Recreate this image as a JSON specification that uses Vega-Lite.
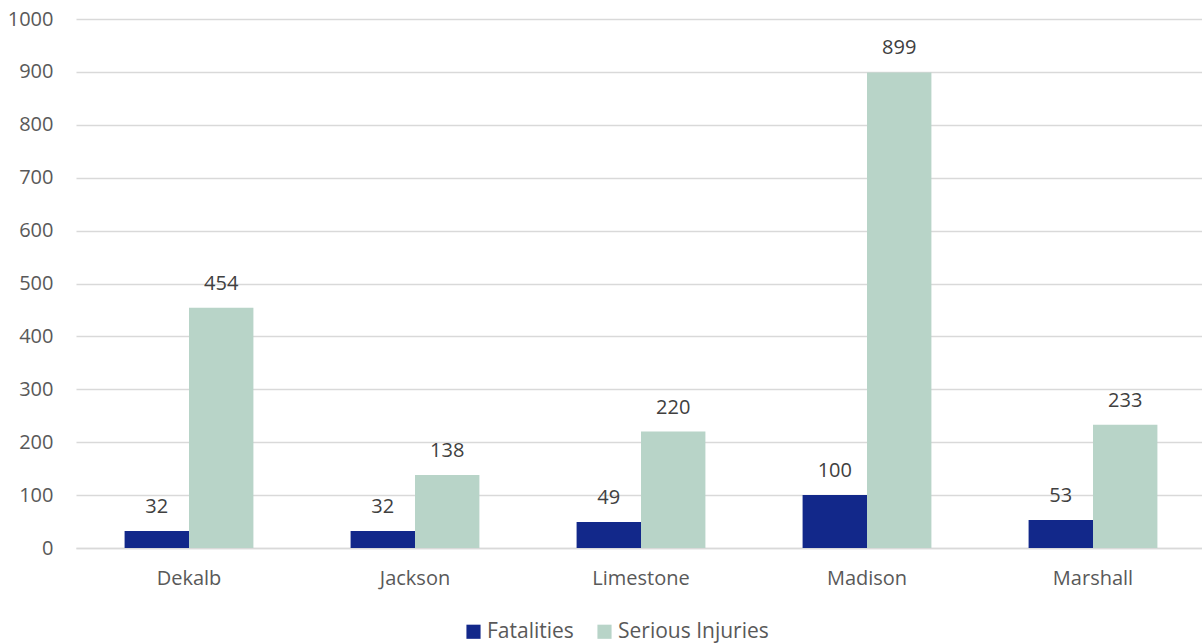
{
  "$schema": "https://vega.github.io/schema/vega-lite/v6.json",
  "autosize": "none",
  "width": 1130,
  "height": 529,
  "padding": {"left": 76, "top": 19, "right": 0, "bottom": 96},
  "background": "white",
  "config": {
    "font": "Open Sans",
    "view": {"stroke": null},
    "axis": {"labelFont": "Open Sans", "labelColor": "#595959", "labelFontSize": 20}
  },
  "data": {
    "values": [
      {"county": "Dekalb", "series": "Fatalities", "value": 32},
      {"county": "Dekalb", "series": "Serious Injuries", "value": 454},
      {"county": "Jackson", "series": "Fatalities", "value": 32},
      {"county": "Jackson", "series": "Serious Injuries", "value": 138},
      {"county": "Limestone", "series": "Fatalities", "value": 49},
      {"county": "Limestone", "series": "Serious Injuries", "value": 220},
      {"county": "Madison", "series": "Fatalities", "value": 100},
      {"county": "Madison", "series": "Serious Injuries", "value": 899},
      {"county": "Marshall", "series": "Fatalities", "value": 53},
      {"county": "Marshall", "series": "Serious Injuries", "value": 233}
    ]
  },
  "encoding": {
    "x": {
      "field": "county", "type": "nominal", "sort": null,
      "scale": {"paddingInner": 0.43, "paddingOuter": 0.215},
      "axis": {"title": null, "labelAngle": 0, "domain": true, "domainColor": "#d9d9d9", "domainWidth": 1.3, "ticks": false, "labelPadding": 20}
    },
    "xOffset": {"field": "series", "type": "nominal", "sort": ["Fatalities", "Serious Injuries"]},
    "y": {
      "field": "value", "type": "quantitative",
      "scale": {"domain": [0, 1000]},
      "axis": {"title": null, "values": [0,100,200,300,400,500,600,700,800,900,1000], "format": "d", "domain": false, "ticks": false, "gridColor": "#d9d9d9", "gridWidth": 1.3, "labelPadding": 23}
    }
  },
  "layer": [
    {
      "mark": {"type": "bar"},
      "encoding": {
        "color": {
          "field": "series", "type": "nominal",
          "scale": {"domain": ["Fatalities", "Serious Injuries"], "range": ["#12288a", "#b8d4c8"]},
          "legend": {
            "title": null, "orient": "none", "direction": "horizontal",
            "legendX": 387, "legendY": 602,
            "symbolType": "square", "symbolSize": 200, "symbolStrokeWidth": 0,
            "labelFont": "Open Sans", "labelFontSize": 21, "labelColor": "#595959",
            "columnPadding": 20, "labelOffset": 3
          }
        }
      }
    },
    {
      "mark": {"type": "text", "baseline": "bottom", "dy": -14, "font": "Open Sans", "fontSize": 20, "color": "#404040"},
      "encoding": {
        "text": {"field": "value", "type": "quantitative"}
      }
    }
  ]
}
